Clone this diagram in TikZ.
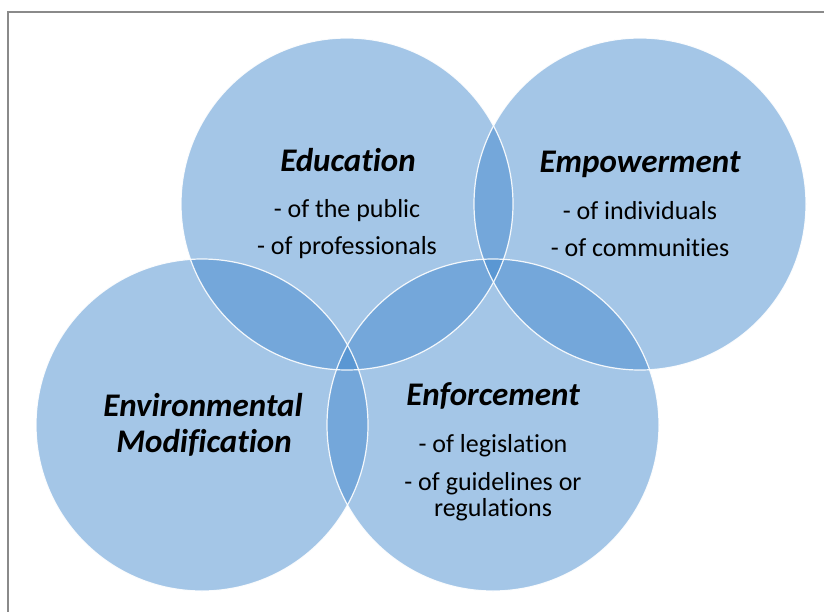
\documentclass[tikz,border=0pt]{standalone}
\usepackage{fontspec}
\setmainfont{Carlito}[Ligatures=NoCommon]
\definecolor{circblue}{RGB}{62,134,204}
\definecolor{framegray}{RGB}{138,138,138}
\tikzset{
  venn/.style={circle, minimum size=332pt, inner sep=0pt, fill=circblue, fill opacity=0.47},
  ring/.style={circle, minimum size=332pt, inner sep=0pt, draw=white, line width=1.2pt, draw opacity=0.9},
  ttl/.style={anchor=base, inner sep=0pt, font=\fontsize{33}{40}\selectfont\bfseries\itshape},
  itm/.style={anchor=base, inner sep=0pt, font=\fontsize{26}{30}\selectfont},
  frame/.style={draw=framegray, line width=2pt}
}
\begin{document}
\begin{tikzpicture}[x=1pt,y=-1pt]
\useasboundingbox (0,0) rectangle (824,611);
\fill[white] (0,0) rectangle (824,611);
\draw[frame] (7.5,620) -- (7.5,11.5) -- (830,11.5);
% fills
\node[venn] (edu) at (347,204) {};
\node[venn] (emp) at (640,204) {};
\node[venn] (env) at (202,425) {};
\node[venn] (enf) at (493,425) {};
% outlines
\node[ring] (eduring) at (edu) {};
\node[ring] (empring) at (emp) {};
\node[ring] (envring) at (env) {};
\node[ring] (enfring) at (enf) {};
% texts
\node[ttl] (edut) at (348,171) {Education};
\node[itm] (edu1) at (347,217) {- of the public};
\node[itm] (edu2) at (347,254) {- of professionals};
\node[ttl] (empt) at (640,172) {Empowerment};
\node[itm] (emp1) at (640,219) {- of individuals};
\node[itm] (emp2) at (640,256) {- of communities};
\node[ttl] (envt) at (203,416) {Environmental};
\node[ttl] (envt2) at (204,452) {Modification};
\node[ttl] (enft) at (493,405) {Enforcement};
\node[itm] (enf1) at (493,452) {- of legislation};
\node[itm] (enf2) at (493,490) {- of guidelines or};
\node[itm] (enf3) at (493,516) {regulations};
\end{tikzpicture}
\end{document}
